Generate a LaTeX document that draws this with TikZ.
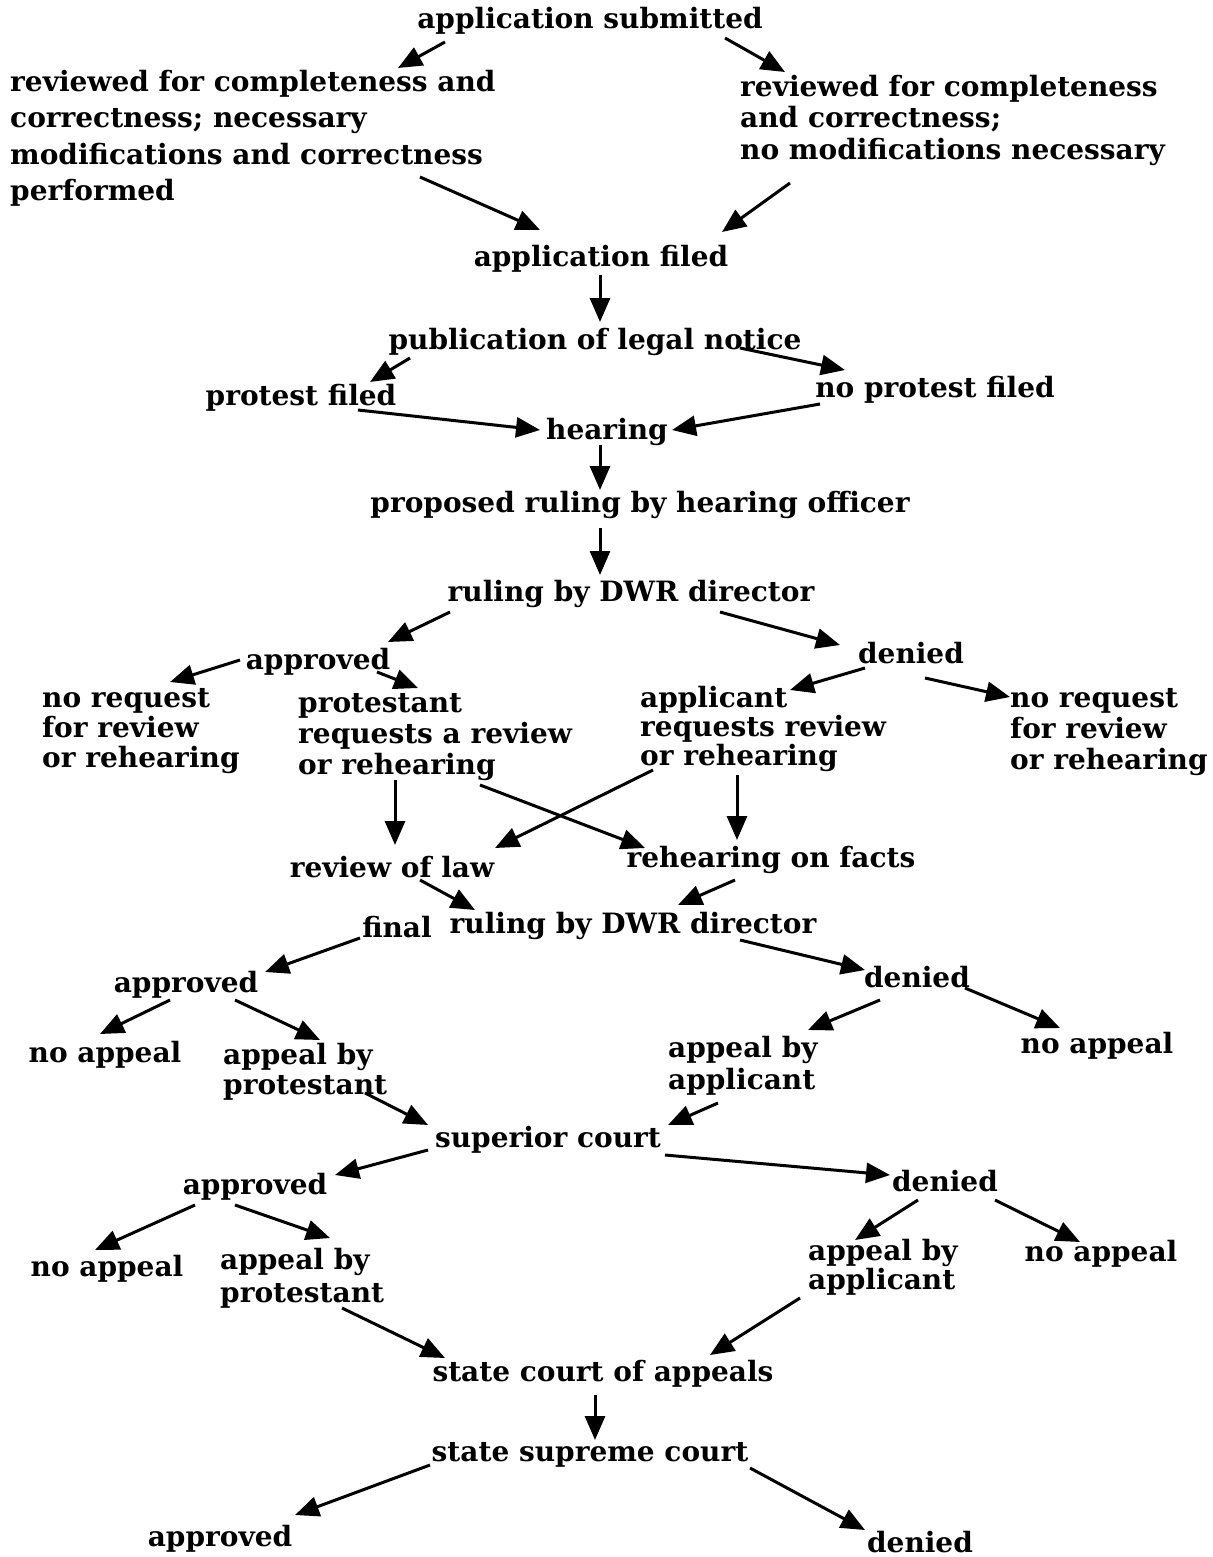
\documentclass[tikz,border=0pt]{standalone}
\usepackage{fontspec}
\setmainfont{DejaVu Serif}
\usetikzlibrary{arrows.meta}
\tikzset{
  lbl/.style={inner sep=0pt, anchor=base, font={\bfseries\fontsize{28bp}{31bp}\selectfont}},
  % multi-line labels: anchored at the baseline of their last line
  blk/.style={inner sep=0pt, anchor=base west, align=left, font={\bfseries\fontsize{28bp}{#1bp}\selectfont}},
  arr/.style={line width=3bp, -{Triangle[length=24bp,width=20bp]}}
}
% connector from node #1 (offset #2,#3) to node #4 (offset #5,#6)
\newcommand\conn[6]{\draw[arr] ([shift={(#2,#3)}]#1) -- ([shift={(#5,#6)}]#4);}
\begin{document}
\begin{tikzpicture}[x=1bp,y=-1bp]
\useasboundingbox[fill=white] (0,0) rectangle (1212,1557);

% --- labels ---
\node[lbl] (sub) at (590,29) {application submitted};
\node[blk=36] (revL) at (10,200) {reviewed for completeness and\\correctness; necessary\\modifications and correctness\\performed};
\node[blk=31] (revR) at (740,159) {reviewed for completeness\\and correctness;\\no modifications necessary};
\node[lbl] (filed) at (601,266) {application filed};
\node[lbl] (pub) at (595,349) {publication of legal notice};
\node[lbl] (prot) at (301,405) {protest filed};
\node[lbl] (noprot) at (935,397) {no protest filed};
\node[lbl] (hear) at (607,439) {hearing};
\node[lbl] (prop) at (640,512) {proposed ruling by hearing officer};
\node[lbl] (rulA) at (631,601) {ruling by DWR director};
\node[lbl] (apprA) at (318,669) {approved};
\node[lbl] (denA) at (911,663) {denied};
\node[blk=30] (noreqL) at (42,767) {no request\\for review\\or rehearing};
\node[blk=31] (protreq) at (298,774) {protestant\\requests a review\\or rehearing};
\node[blk=29] (applreq) at (640,765) {applicant\\requests review\\or rehearing};
\node[blk=31] (noreqR) at (1010,769) {no request\\for review\\or rehearing};
\node[lbl] (law) at (392,877) {review of law};
\node[lbl] (facts) at (771,867) {rehearing on facts};
\node[lbl] (final) at (397,937) {final};
\node[lbl] (rulB) at (633,933) {ruling by DWR director};
\node[lbl] (apprB) at (186,992) {approved};
\node[lbl] (denB) at (917,987) {denied};
\node[lbl] (noapLB) at (105,1062) {no appeal};
\node[blk=30] (byPB) at (223,1094) {appeal by\\protestant};
\node[blk=32] (byAB) at (668,1089) {appeal by\\applicant};
\node[lbl] (noapRB) at (1097,1053) {no appeal};
\node[lbl] (sup) at (548,1147) {superior court};
\node[lbl] (apprC) at (255,1194) {approved};
\node[lbl] (denC) at (945,1191) {denied};
\node[lbl] (noapLC) at (107,1276) {no appeal};
\node[blk=33] (byPC) at (220,1302) {appeal by\\protestant};
\node[blk=25] (byAC) at (808,1289) {appeal by\\applicant};
\node[lbl] (noapRC) at (1101,1261) {no appeal};
\node[lbl] (sca) at (603,1381) {state court of appeals};
\node[lbl] (ssc) at (590,1461) {state supreme court};
\node[lbl] (apprD) at (220,1546) {approved};
\node[lbl] (denD) at (920,1552) {denied};

% --- connectors ---
\conn{sub.base}{-145}{13}{revL.base west}{388}{-132}
\conn{sub.base}{135}{9}{revR.base west}{45}{-87}
\conn{revL.base west}{410}{-23}{filed.base}{-61}{-36}
\conn{revR.base west}{50}{24}{filed.base}{121}{-34}
\conn{filed.base}{-1}{9}{pub.base}{5}{-27}
\conn{pub.base}{-185}{9}{prot.base}{69}{-23}
\conn{pub.base}{145}{-1}{noprot.base}{-90}{-27}
\conn{prot.base}{57}{5}{hear.base}{-67}{-9}
\conn{noprot.base}{-115}{7}{hear.base}{65}{-9}
\conn{hear.base}{-7}{6}{prop.base}{-40}{-22}
\conn{prop.base}{-40}{16}{rulA.base}{-31}{-26}
\conn{rulA.base}{-181}{11}{apprA.base}{70}{-27}
\conn{rulA.base}{89}{11}{denA.base}{-71}{-18}
\conn{apprA.base}{-78}{-9}{noreqL.base west}{128}{-85}
\conn{apprA.base}{59}{3}{protreq.base west}{120}{-86}
\conn{denA.base}{-46}{5}{applreq.base west}{150}{-75}
\conn{denA.base}{14}{15}{noreqR.base west}{0}{-72}
\conn{protreq.base west}{97}{6}{law.base}{3}{-32}
\conn{protreq.base west}{182}{11}{facts.base}{-126}{-19}
\conn{applreq.base west}{13}{5}{law.base}{103}{-29}
\conn{applreq.base west}{97}{10}{facts.base}{-34}{-27}
\conn{law.base}{28}{3}{rulB.base}{-158}{-23}
\conn{facts.base}{-36}{13}{rulB.base}{45}{-28}
\conn{final.base}{-37}{1}{apprB.base}{79}{-20}
\conn{rulB.base}{107}{7}{denB.base}{-52}{-17}
\conn{apprB.base}{-16}{8}{noapLB.base}{-5}{-28}
\conn{apprB.base}{49}{8}{byPB.base west}{97}{-54}
\conn{denB.base}{-37}{13}{byAB.base west}{140}{-59}
\conn{denB.base}{48}{1}{noapRB.base}{-37}{-25}
\conn{byPB.base west}{142}{-1}{sup.base}{-120}{-22}
\conn{byAB.base west}{50}{14}{sup.base}{120}{-22}
\conn{sup.base}{-120}{3}{apprC.base}{80}{-19}
\conn{sup.base}{117}{8}{denC.base}{-55}{-16}
\conn{apprC.base}{-60}{11}{noapLC.base}{-12}{-26}
\conn{apprC.base}{-20}{11}{byPC.base west}{110}{-64}
\conn{denC.base}{-27}{9}{byAC.base west}{47}{-49}
\conn{denC.base}{50}{9}{noapRC.base}{-21}{-19}
\conn{byPC.base west}{122}{6}{sca.base}{-158}{-23}
\conn{byAC.base west}{-8}{9}{sca.base}{107}{-26}
\conn{sca.base}{-8}{14}{ssc.base}{5}{-21}
\conn{ssc.base}{-160}{4}{apprD.base}{75}{-31}
\conn{ssc.base}{160}{7}{denD.base}{-55}{-22}
\end{tikzpicture}
\end{document}
